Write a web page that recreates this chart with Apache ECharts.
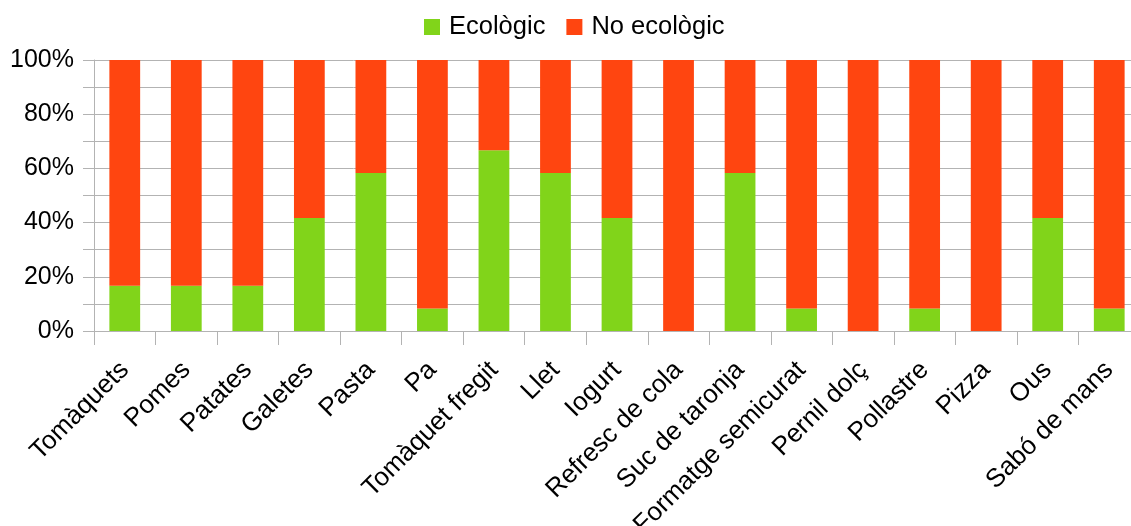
<!DOCTYPE html>
<html>
<head>
<meta charset="utf-8">
<script src="https://cdn.jsdelivr.net/npm/echarts@6/dist/echarts.min.js"></script>
<style>html,body{margin:0;padding:0;background:#fff}#c{width:1131px;height:526px}</style>
</head>
<body>
<div id="c"></div>
<script>
const categories = ["Tomàquets","Pomes","Patates","Galetes","Pasta","Pa","Tomàquet fregit","Llet","Iogurt","Refresc de cola","Suc de taronja","Formatge semicurat","Pernil dolç","Pollastre","Pizza","Ous","Sabó de mans"];
const ecologic = [16.67,16.67,16.67,41.67,58.33,8.33,66.67,58.33,41.67,0,58.33,8.33,0,8.33,0,41.67,8.33];
const noEcologic = [83.33,83.33,83.33,58.33,41.67,91.67,33.33,41.67,58.33,100,41.67,91.67,100,91.67,100,58.33,91.67];
const seriesNames = ["Ecològic","No ecològic"];
const colors = ["#81d41a","#ff4510"];

const chart = echarts.init(document.getElementById('c'), null, {renderer:'canvas'});
const font = 'Liberation Sans';
chart.setOption({
  animation:false,
  color: colors,
  legend:{
    top: 9, left: 419,
    itemWidth:16, itemHeight:16, itemGap:21,
    icon:'rect',
    textStyle:{fontFamily:font, fontSize:25.5, color:'#000', padding:[0,0,0,4]},
    data: seriesNames
  },
  grid:{left:94, right:-9, top:60, bottom:195, containLabel:false, outerBoundsMode:'none'},
  xAxis:{
    type:'category', data:categories, boundaryGap:true,
    axisLine:{show:true, lineStyle:{color:'#b3b3b3', width:1}},
    axisTick:{show:true, length:14, interval:0, lineStyle:{color:'#b3b3b3'}},
    axisLabel:{rotate:45, interval:0, margin:35, fontFamily:font, fontSize:26, color:'#000'}
  },
  yAxis:{
    type:'value', min:0, max:100, interval:20,
    axisLine:{show:true, lineStyle:{color:'#b3b3b3'}},
    axisTick:{show:true, length:11, lineStyle:{color:'#b3b3b3'}},
    minorTick:{show:true, splitNumber:2, length:11, lineStyle:{color:'#b3b3b3'}},
    splitLine:{show:true, lineStyle:{color:'#b3b3b3'}},
    minorSplitLine:{show:true, lineStyle:{color:'#b3b3b3'}},
    axisLabel:{formatter:'{value}%', margin:20, fontFamily:font, fontSize:25, color:'#000'}
  },
  series:[
    {name:seriesNames[0], type:'bar', stack:'a', data:ecologic, barWidth:'50%', itemStyle:{color:colors[0]}},
    {name:seriesNames[1], type:'bar', stack:'a', data:noEcologic, barWidth:'50%', itemStyle:{color:colors[1]}}
  ]
});
</script>
</body>
</html>
